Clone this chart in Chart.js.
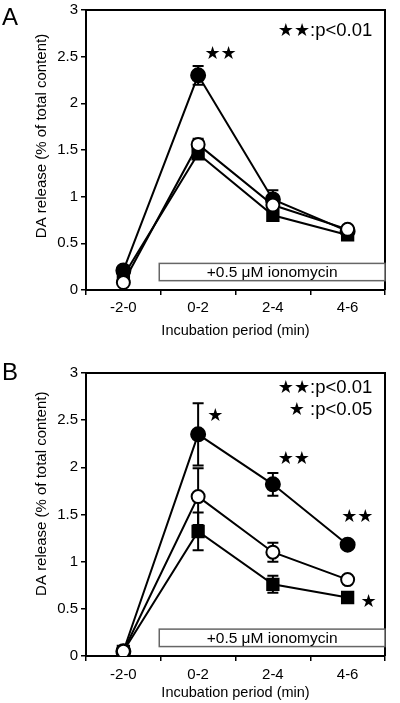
<!DOCTYPE html>
<html>
<head>
<meta charset="utf-8">
<script src="https://cdn.jsdelivr.net/npm/chart.js@4.4.0/dist/chart.umd.min.js"></script>
<style>
  html, body { margin: 0; padding: 0; background: #fff; }
  #wrap { position: relative; width: 400px; height: 703px; overflow: hidden; }
  .panel { position: absolute; left: 0; width: 400px; height: 340px; }
  .tag { position: absolute; left: 2px; font: 24px 'Liberation Sans', Arial, sans-serif; line-height: 24px; color: #000; }
</style>
</head>
<body>
<div id="wrap">
  <div class="panel" style="top:0"><canvas id="chartA"></canvas></div>
  <div class="panel" style="top:363px"><canvas id="chartB"></canvas></div>
  <div class="tag" style="top:5px">A</div>
  <div class="tag" style="top:360px">B</div>
</div>
<script>
// categories and axis
const periods = ['-2-0', '0-2', '2-4', '4-6'];
const yMin = 0, yMax = 3, yStep = 0.5;
const yTickLabels = ['0', '0.5', '1', '1.5', '2', '2.5', '3'];

// panel A values (mean and error)
const aFilled = [0.21, 2.30, 0.97, 0.63];
const aFilledErr = [0.03, 0.10, 0.10, 0.03];
const aOpen = [0.08, 1.56, 0.91, 0.65];
const aOpenErr = [0.02, 0.06, 0.05, 0.02];
const aSquare = [0.15, 1.46, 0.80, 0.59];
const aSquareErr = [0.03, 0.05, 0.04, 0.02];

// panel B values
const bFilled = [0.05, 2.35, 1.82, 1.18];
const bFilledErr = [0.01, 0.33, 0.12, 0.04];
const bOpen = [0.05, 1.69, 1.10, 0.81];
const bOpenErr = [0.01, 0.30, 0.10, 0.02];
const bSquare = [0.05, 1.32, 0.76, 0.62];
const bSquareErr = [0.01, 0.20, 0.09, 0.02];

const FONT = "'Liberation Sans', Arial, 'DejaVu Sans', sans-serif";
const STAR_FONT = "'DejaVu Sans', sans-serif";
Chart.defaults.font.family = FONT;
Chart.defaults.font.size = 15;
Chart.defaults.color = '#000';

// error bars, frame, ionomycin box, y title and star notes
const extras = {
  id: 'extras',
  beforeDatasetsDraw(chart, args, opts) {
    const {ctx, chartArea: ca, scales: {x, y}} = chart;
    ctx.save();
    // top and right frame
    ctx.strokeStyle = '#000';
    ctx.lineWidth = 2;
    ctx.beginPath();
    ctx.moveTo(ca.left, ca.top);
    ctx.lineTo(ca.right, ca.top);
    ctx.lineTo(ca.right, ca.bottom);
    ctx.stroke();

    // y axis title
    ctx.save();
    ctx.translate(42, y.getPixelForValue(opts.yTitleMid));
    ctx.rotate(-Math.PI / 2);
    ctx.fillStyle = '#000';
    ctx.font = '15px ' + FONT;
    ctx.textAlign = 'center';
    ctx.textBaseline = 'middle';
    ctx.fillText(opts.yTitle, 0, 0);
    ctx.restore();

    // treatment box
    const b = opts.band;
    const bx0 = x.getPixelForValue(b.from), bx1 = ca.right;
    const by0 = y.getPixelForValue(b.top), by1 = y.getPixelForValue(b.bottom);
    ctx.fillStyle = '#fff';
    ctx.fillRect(bx0, by0, bx1 - bx0, by1 - by0);
    ctx.strokeStyle = '#666';
    ctx.lineWidth = 1.5;
    ctx.strokeRect(bx0, by0, bx1 - bx0, by1 - by0);
    ctx.fillStyle = '#000';
    ctx.font = '15.5px ' + FONT;
    ctx.textAlign = 'center';
    ctx.textBaseline = 'middle';
    ctx.fillText(b.text, (bx0 + bx1) / 2, (by0 + by1) / 2 + 1);

    // error bars
    ctx.strokeStyle = '#000';
    ctx.lineWidth = 2;
    chart.data.datasets.forEach(ds => {
      ds.data.forEach((v, i) => {
        const e = ds.errors[i];
        const px = x.getPixelForValue(i);
        const top = y.getPixelForValue(v + e), bot = y.getPixelForValue(v - e);
        ctx.beginPath();
        ctx.moveTo(px, top); ctx.lineTo(px, bot);
        ctx.moveTo(px - 5.5, top); ctx.lineTo(px + 5.5, top);
        ctx.moveTo(px - 5.5, bot); ctx.lineTo(px + 5.5, bot);
        ctx.stroke();
      });
    });
    ctx.restore();
  },
  afterDatasetsDraw(chart, args, opts) {
    const {ctx, scales: {x, y}} = chart;
    ctx.save();
    ctx.fillStyle = '#000';
    ctx.textBaseline = 'alphabetic';
    opts.notes.forEach(n => {
      const px = x.getPixelForValue(n.cat), py = y.getPixelForValue(n.val);
      if (n.text) {
        ctx.font = '18.5px ' + FONT;
        ctx.textAlign = 'right';
        ctx.fillText(n.text, px, py);
        const w = ctx.measureText(n.text).width;
        ctx.font = '18px ' + STAR_FONT;
        ctx.fillText(n.stars, px - w, py);
      } else {
        ctx.font = '18px ' + STAR_FONT;
        ctx.textAlign = 'center';
        ctx.fillText(n.stars, px, py);
      }
    });
    ctx.restore();
  }
};

function makeChart(id, filled, filledErr, open, openErr, square, squareErr, notes, lay) {
  const line = {borderColor: '#000', borderWidth: 2, tension: 0, fill: false, pointBorderColor: '#000', pointBorderWidth: 2};
  return new Chart(document.getElementById(id), {
    type: 'line',
    data: {
      labels: periods,
      datasets: [
        Object.assign({label: 'open circle', data: open, errors: openErr, pointStyle: 'circle', pointRadius: 6.5, pointBackgroundColor: '#fff'}, line),
        Object.assign({label: 'filled circle', data: filled, errors: filledErr, pointStyle: 'circle', pointRadius: 7, pointBackgroundColor: '#000'}, line),
        Object.assign({label: 'square', data: square, errors: squareErr, pointStyle: 'rect', pointRadius: 8, pointBackgroundColor: '#000'}, line)
      ]
    },
    plugins: [extras],
    options: {
      responsive: true,
      maintainAspectRatio: false,
      animation: false,
      layout: {padding: {top: lay.top, right: 15, left: 0, bottom: 0}},
      plugins: {
        legend: {display: false},
        tooltip: {enabled: false},
        extras: {
          band: {from: 0.48, top: 0.285, bottom: 0.1, text: '+0.5 \u03bcM ionomycin'},
          yTitle: 'DA release (% of total content)',
          yTitleMid: lay.yTitleMid,
          notes: notes
        }
      },
      scales: {
        x: {
          type: 'category',
          offset: true,
          grid: {offset: true, drawOnChartArea: false, drawTicks: true, tickLength: 5, color: '#000', lineWidth: 1.5},
          border: {display: true, color: '#000', width: 2},
          ticks: {padding: lay.xPad, maxRotation: 0, font: {size: 15}},
          title: {display: true, text: 'Incubation period (min)', font: {size: 14.5}, padding: {top: 0, bottom: lay.titlePad}},
          afterFit: s => { s.height = lay.xHeight; s.paddingLeft = 0; s.paddingRight = 0; }
        },
        y: {
          min: yMin, max: yMax,
          grid: {drawOnChartArea: false, drawTicks: true, tickLength: 5, color: '#000', lineWidth: 1.5},
          border: {display: true, color: '#000', width: 2},
          ticks: {stepSize: yStep, padding: 3, font: {size: 15}, callback: (v, i) => yTickLabels[i]},
          afterFit: s => { s.width = 86; s.paddingTop = 0; s.paddingBottom = 0; }
        }
      }
    }
  });
}

// star notes: val is the text baseline
const notesA = [
  {stars: '\u2605\u2605', text: '', cat: 1.3, val: 2.47},
  {stars: '\u2605\u2605', text: ':p<0.01', cat: 3.33, val: 2.72}
];
const notesB = [
  {stars: '\u2605\u2605', text: ':p<0.01', cat: 3.33, val: 2.79},
  {stars: '\u2605', text: ' :p<0.05', cat: 3.33, val: 2.556},
  {stars: '\u2605', text: '', cat: 1.23, val: 2.49},
  {stars: '\u2605\u2605', text: '', cat: 2.28, val: 2.04},
  {stars: '\u2605\u2605', text: '', cat: 3.13, val: 1.42},
  {stars: '\u2605', text: '', cat: 3.28, val: 0.52}
];

makeChart('chartA', aFilled, aFilledErr, aOpen, aOpenErr, aSquare, aSquareErr, notesA,
  {top: 8, xHeight: 50, xPad: 4, titlePad: 0, yTitleMid: 1.65});
makeChart('chartB', bFilled, bFilledErr, bOpen, bOpenErr, bSquare, bSquareErr, notesB,
  {top: 8.7, xHeight: 47, xPad: 5, titlePad: 1, yTitleMid: 1.72});
</script>
</body>
</html>
